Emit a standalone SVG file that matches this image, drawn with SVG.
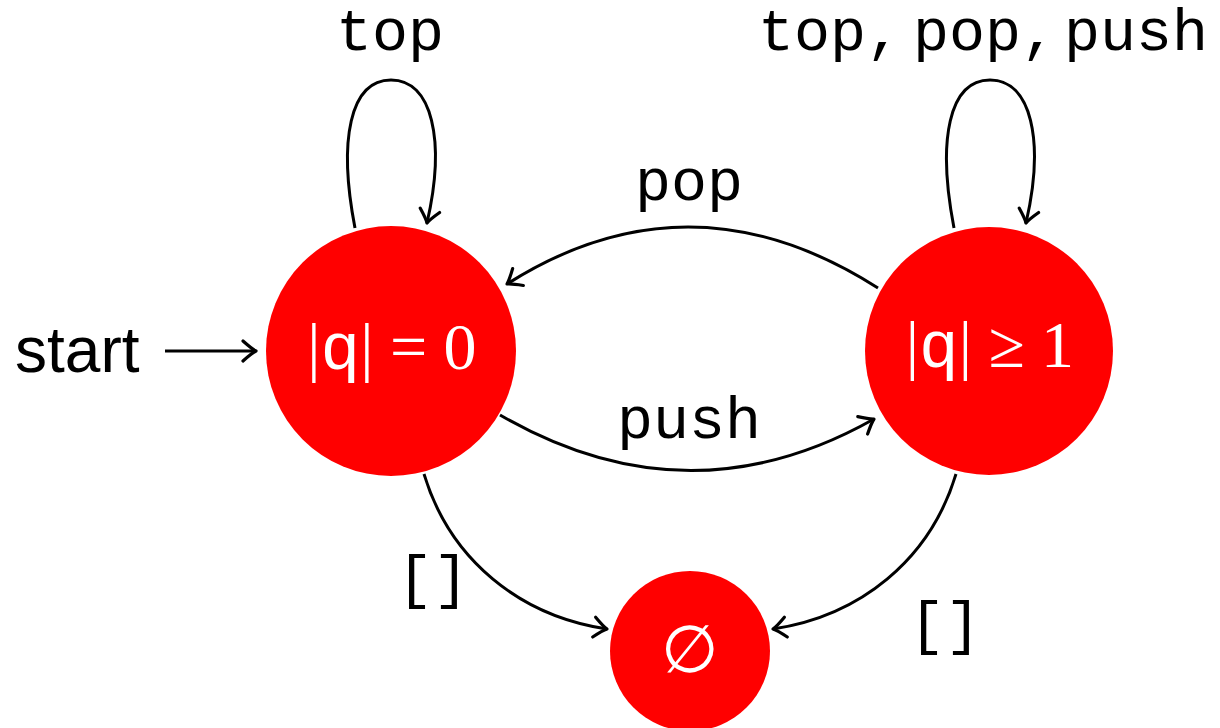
<svg xmlns="http://www.w3.org/2000/svg" width="1220" height="728" viewBox="0 0 1220 728">
<style>
.node{fill:#ff0000;stroke:none}
.math{font-family:"Liberation Serif","DejaVu Serif",serif;fill:#ffffff;font-size:66px}
.tt{font-family:"Liberation Mono","DejaVu Sans Mono",monospace}
.lbl{font-family:"Liberation Mono","DejaVu Sans Mono",monospace;font-size:60px;fill:#000;text-anchor:middle}
.edge{fill:none;stroke:#000;stroke-width:3;marker-end:url(#arr)}
</style>
<defs>
<marker id="arr" markerUnits="userSpaceOnUse" viewBox="-16 -12 20 24" refX="0" refY="0" markerWidth="20" markerHeight="24" orient="auto" overflow="visible">
<path d="M -13 -10 Q -4 -2 0 0 Q -4 2 -13 10" fill="none" stroke="#000" stroke-width="3.2" stroke-linecap="round" stroke-linejoin="round"/>
</marker>
</defs>
<g id="connectors">
<line class="edge" x1="165" y1="351" x2="256" y2="351"/>
<path class="edge" d="M 355 228 C 338 140 350 80 391 80 C 432 80 446 140 427 223"/>
<path class="edge" d="M 954 228 C 937 140 949 80 990 80 C 1031 80 1045 140 1026 223"/>
<path class="edge" d="M 878 288 Q 690 168 507 284"/>
<path class="edge" d="M 500 415 Q 688 524 874 419"/>
<path class="edge" d="M 424 474 C 450 560 520 616 607 629"/>
<path class="edge" d="M 956 474 C 930 560 860 616 773 629"/>
</g>
<g id="labels">
<text class="lbl" x="390" y="50">top</text>
<text class="lbl" x="830" y="50">top,</text>
<text class="lbl" x="985" y="50">pop,</text>
<text class="lbl" x="1136" y="50">push</text>
<text class="lbl" x="689" y="200">pop</text>
<text class="lbl" x="689" y="438">push</text>
<text class="lbl" x="433" y="597">[]</text>
<text class="lbl" x="945" y="643">[]</text>
<text x="15" y="372" font-family="Liberation Sans, Arial, sans-serif" font-size="64" fill="#000">start</text>
</g>
<g id="q0">
<circle class="node" cx="391" cy="351" r="125"/>
<text class="math" x="392" y="369" text-anchor="middle">|<tspan class="tt">q</tspan>| = 0</text>
</g>
<g id="q1">
<circle class="node" cx="989" cy="351" r="124"/>
<text class="math" x="990" y="367" text-anchor="middle">|<tspan class="tt">q</tspan>| ≥ 1</text>
</g>
<g id="empty">
<circle class="node" cx="690" cy="651" r="80"/>
<text class="math" x="690" y="672" text-anchor="middle">∅</text>
</g>
</svg>
